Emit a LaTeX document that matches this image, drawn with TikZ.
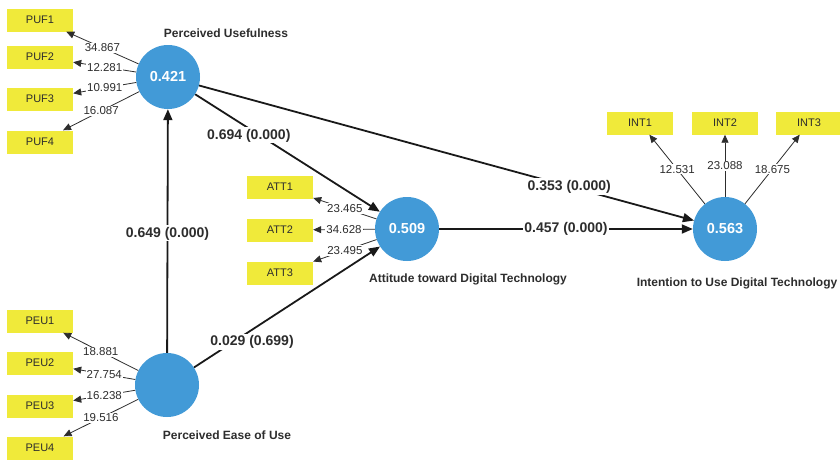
\documentclass[tikz,border=0pt]{standalone}
\usepackage{fontspec}
\setmainfont{Liberation Sans}
\usetikzlibrary{arrows.meta}
\definecolor{lvblue}{RGB}{66,154,215}
\definecolor{indyellow}{RGB}{240,234,58}
\definecolor{txtgray}{RGB}{45,45,45}
\begin{document}
\begin{tikzpicture}[x=1pt,y=-1pt,
  latent/.style={circle,fill=lvblue,minimum size=64pt,inner sep=0pt,
    font=\fontsize{14.5}{16}\selectfont\bfseries,text=white},
  indicator/.style={fill=indyellow,minimum width=66pt,minimum height=23pt,inner sep=0pt,
    font=\fontsize{11}{13}\selectfont,text=txtgray},
  lvname/.style={font=\fontsize{12}{14}\selectfont\bfseries,text=txtgray},
  loading/.style={draw=txtgray,line width=0.8pt,-{Triangle[length=8pt,width=7pt]}},
  pathline/.style={draw=black!90,line width=1.8pt,-{Triangle[length=11pt,width=9pt]}},
  loadlbl/.style={fill=white,inner sep=1pt,font=\fontsize{11.5}{13}\selectfont,text=txtgray},
  coeflbl/.style={fill=white,inner sep=1.5pt,font=\fontsize{14}{16}\selectfont\bfseries,text=txtgray},
]
\useasboundingbox (0,0) rectangle (840,459);
\fill[white] (0,0) rectangle (840,459);

% latent variables
\node[latent] (PU)  at (168,77)  {0.421};
\node[latent] (PEU) at (167,385) {};
\node[latent] (ATT) at (407,229) {0.509};
\node[latent] (INT) at (725,229) {0.563};

% names
\node[lvname] (PUname)  at (226,33)  {Perceived Usefulness};
\node[lvname] (PEUname) at (227,435) {Perceived Ease of Use};
\node[lvname] (ATTname) at (468,279) {Attitude toward Digital Technology};
\node[lvname] (INTname) at (737,283) {Intention to Use Digital Technology};

% indicators
\node[indicator] (PUF1) at (40,20)  {PUF1};
\node[indicator] (PUF2) at (40,57)  {PUF2};
\node[indicator] (PUF3) at (40,99)  {PUF3};
\node[indicator] (PUF4) at (40,142) {PUF4};
\node[indicator] (PEU1) at (40,321) {PEU1};
\node[indicator] (PEU2) at (40,363) {PEU2};
\node[indicator] (PEU3) at (40,406) {PEU3};
\node[indicator] (PEU4) at (40,448) {PEU4};
\node[indicator] (ATT1) at (280,187) {ATT1};
\node[indicator] (ATT2) at (280,230) {ATT2};
\node[indicator] (ATT3) at (280,273) {ATT3};
\node[indicator] (INT1) at (640,123) {INT1};
\node[indicator] (INT2) at (725,123) {INT2};
\node[indicator] (INT3) at (809,123) {INT3};

% loadings
\draw[loading] (PU) -- node[loadlbl] {34.867} (PUF1);
\draw[loading] (PU) -- node[loadlbl] {12.281} (PUF2);
\draw[loading] (PU) -- node[loadlbl] {10.991} (PUF3);
\draw[loading] (PU) -- node[loadlbl] {16.087} (PUF4);
\draw[loading] (PEU) -- node[loadlbl] {18.881} (PEU1);
\draw[loading] (PEU) -- node[loadlbl] {27.754} (PEU2);
\draw[loading] (PEU) -- node[loadlbl] {16.238} (PEU3);
\draw[loading] (PEU) -- node[loadlbl] {19.516} (PEU4);
\draw[loading] (ATT) -- node[loadlbl] {23.465} (ATT1);
\draw[loading] (ATT) -- node[loadlbl] {34.628} (ATT2);
\draw[loading] (ATT) -- node[loadlbl] {23.495} (ATT3);
\draw[loading] (INT) -- node[loadlbl] {12.531} (INT1);
\draw[loading] (INT) -- node[loadlbl] {23.088} (INT2);
\draw[loading] (INT) -- node[loadlbl] {18.675} (INT3);

% structural paths
\draw[pathline] (PEU) -- node[coeflbl,pos=0.49] {0.649 (0.000)} (PU);
\draw[pathline] (PU) -- node[coeflbl,pos=0.35,xshift=-11pt] {0.694 (0.000)} (ATT);
\draw[pathline] (PEU) -- node[coeflbl,pos=0.21,xshift=19pt] {0.029 (0.699)} (ATT);
\draw[pathline] (PU) -- node[coeflbl,pos=0.748] {0.353 (0.000)} (INT);
\draw[pathline] (ATT) -- node[coeflbl,pos=0.5] {0.457 (0.000)} (INT);
\end{tikzpicture}
\end{document}
